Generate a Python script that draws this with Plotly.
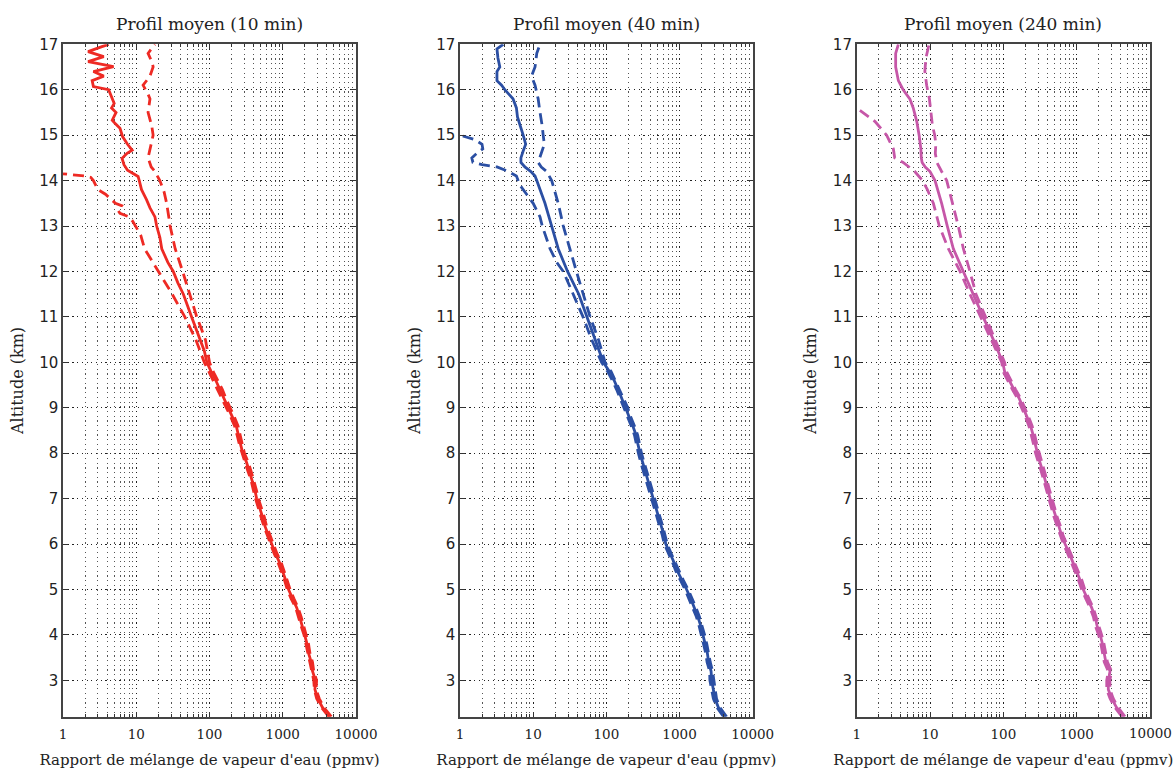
import plotly.graph_objects as go

TITLES = ["Profil moyen (10 min)", "Profil moyen (40 min)", "Profil moyen (240 min)"]
X_TITLE = "Rapport de mélange de vapeur d'eau (ppmv)"
Y_TITLE = "Altitude (km)"
X_TICKS = [1, 10, 100, 1000, 10000]
X_TICK_TEXT = ["1", "10", "100", "1000", "10000"]
Y_TICKS = list(range(3, 18))
COLORS = ["#EE2A24", "#2B4FA3", "#C657A8"]

LOW_ALT = [round(2.2 + 0.2 * i, 1) for i in range(40)]  # 2.2 ... 10.0 km

# ---------- 10 min (red) ----------
alt_10_mean = LOW_ALT + [10.25, 10.5, 10.75, 11.0, 11.25, 11.5, 11.75, 12.0,
                         12.2, 12.5, 12.75, 13.0, 13.2, 13.4, 13.58, 13.8, 14.0,
                         14.09, 14.23, 14.35, 14.49, 14.6, 14.67, 14.8, 14.97,
                         15.15, 15.25, 15.33, 15.5, 15.6, 15.7, 15.85, 16.0,
                         16.07, 16.2, 16.3, 16.4, 16.51, 16.62, 16.73, 16.84, 16.95, 17.0]
val_10_mean = [4400, 3500, 3000, 2750, 2800, 2550, 2450, 2250, 2150, 2000,
               1850, 1700, 1550, 1350, 1200, 1100, 1000, 900, 790, 705,
               630, 570, 530, 480, 440, 415, 385, 350, 320, 285,
               265, 250, 232, 205, 180, 158, 140, 122, 105, 92,
               85, 75, 66, 57, 50, 44, 37, 32,
               27, 22.3, 21, 19, 18, 15.4, 13.8, 11.8, 11.0,
               10.6, 7.6, 6.8, 6.4, 7.5, 8.8, 7.6, 6.5,
               6.0, 5.2, 4.7, 5.3, 4.6, 5.0, 4.6, 4.2,
               2.6, 2.5, 3.6, 2.6, 4.9, 2.2, 3.6, 2.2, 3.4, 4.2]
alt_10_low = LOW_ALT + [10.5, 11.0, 11.5, 12.0, 12.2, 12.5, 12.8, 13.0, 13.1, 13.2,
                        13.28, 13.35, 13.45, 13.5, 13.6, 13.7, 13.8, 13.9, 14.0,
                        14.07, 14.1, 14.15]
val_10_low = [4250, 3400, 2900, 2700, 2650, 2500, 2350, 2200, 2050, 1950,
              1780, 1620, 1500, 1300, 1150, 1060, 960, 860, 760, 680,
              605, 550, 505, 460, 425, 395, 370, 335, 305, 275,
              255, 238, 220, 195, 170, 150, 130, 112, 97, 85,
              65, 46, 31, 20, 17, 13.0, 11.5, 9.8, 9.0, 8.0,
              6.0, 5.6, 6.3, 5.2, 4.5, 3.8, 3.0, 2.8, 2.6,
              2.4, 2.0, 1.0]
alt_10_high = LOW_ALT + [10.5, 11.0, 11.5, 12.0, 12.5, 13.0, 13.25, 13.5, 13.75, 14.0,
                         14.2, 14.3, 14.5, 14.7, 14.85, 15.0, 15.2, 15.5, 15.8, 15.9,
                         16.1, 16.3, 16.5, 16.6, 16.8, 17.0]
val_10_high = [4600, 3650, 3150, 2850, 2900, 2650, 2550, 2350, 2250, 2100,
               1930, 1780, 1620, 1420, 1260, 1150, 1050, 950, 830, 740,
               660, 600, 560, 505, 465, 435, 405, 370, 338, 300,
               280, 264, 245, 218, 190, 168, 150, 130, 112, 100,
               88, 67, 54, 43, 34, 29, 27.5, 26, 24, 21,
               18, 16, 14.5, 15.4, 16, 17, 16.3, 14.5, 15.4, 14.5,
               12.4, 15.4, 17, 16.5, 14.5, 18]

# ---------- 40 min (blue) ----------
alt_40_mean = LOW_ALT + [10.5, 11.0, 11.5, 12.0, 12.5, 13.0, 13.5, 14.0,
                         14.1, 14.2, 14.3, 14.4, 14.5, 14.65, 14.8, 15.0,
                         15.2, 15.4, 15.6, 15.8, 16.0, 16.1, 16.2, 16.4,
                         16.5, 16.7, 16.9, 17.0]
val_40_mean = [4200, 3400, 3050, 2900, 2750, 2700, 2500, 2400, 2250, 2100,
               1950, 1780, 1600, 1420, 1250, 1080, 940, 840, 730, 650,
               610, 560, 515, 475, 437, 400, 370, 340, 310, 288,
               270, 255, 230, 205, 186, 165, 145, 128, 110, 91,
               70, 54, 42, 29.5, 22, 17.9, 14.5, 11.2,
               10.6, 9.3, 7.7, 6.8, 6.8, 7.3, 7.9, 7.3,
               6.6, 6.1, 5.9, 5.3, 4.1, 3.7, 3.2, 3.2,
               3.5, 3.3, 3.2, 3.9]
alt_40_low = LOW_ALT + [10.5, 11.0, 11.5, 12.0, 12.2, 12.5, 13.0, 13.2, 13.5, 13.7,
                        13.9, 14.1, 14.2, 14.3, 14.35, 14.4, 14.5, 14.6, 14.7, 14.8,
                        14.9, 15.0]
val_40_low = [4000, 3250, 2900, 2750, 2600, 2580, 2380, 2280, 2130, 2000,
              1850, 1700, 1520, 1350, 1190, 1030, 895, 800, 695, 620,
              580, 532, 490, 452, 415, 380, 352, 323, 295, 274,
              257, 242, 219, 195, 177, 157, 138, 121, 104, 86,
              63, 48, 35.5, 25.8, 21, 17, 13.3, 12.4, 10, 8.1,
              6.6, 5.9, 4.6, 3.2, 2.0, 1.5, 1.45, 1.7, 2.05, 2.0,
              1.6, 1.0]
alt_40_high = LOW_ALT + [10.5, 11.0, 11.5, 12.0, 12.5, 13.0, 13.5, 14.0, 14.2, 14.3,
                         14.4, 14.6, 14.8, 15.0, 15.2, 15.5, 15.8, 16.1, 16.3, 16.5,
                         16.8, 17.0]
val_40_high = [4400, 3580, 3200, 3050, 2900, 2830, 2630, 2520, 2360, 2200,
               2050, 1870, 1680, 1490, 1310, 1130, 985, 880, 765, 680,
               640, 588, 540, 500, 460, 420, 388, 357, 325, 302,
               284, 268, 242, 215, 196, 173, 152, 134, 116, 96,
               78, 60, 48, 39, 31.7, 25.8, 22, 17.9, 15.3, 12.9,
               11.7, 12.8, 14.2, 13.7, 13.3, 12.4, 11.7, 10.6, 9.5, 10.6,
               11.2, 12.4]

# ---------- 240 min (magenta) ----------
alt_240_mean = LOW_ALT + [10.5, 11.0, 11.5, 12.0, 12.5, 13.0, 13.5, 14.0,
                          14.2, 14.3, 14.4, 14.5, 14.7, 15.0, 15.3, 15.6,
                          15.8, 16.0, 16.2, 16.5, 16.8, 17.0]
val_240_mean = [4350, 3500, 3000, 2700, 2700, 2850, 2500, 2400, 2250, 2090,
                1900, 1780, 1600, 1400, 1230, 1120, 1000, 900, 790, 695,
                620, 570, 515, 475, 435, 405, 375, 345, 315, 290,
                272, 255, 235, 210, 187, 165, 140, 122, 104, 98,
                73, 53, 39, 28.5, 20.8, 17.2, 14.4, 11.7,
                10, 8.6, 7.8, 7.6, 7.5, 7.1, 6.6, 5.9,
                5.3, 4.3, 3.7, 3.4, 3.4, 3.7]
alt_240_low = LOW_ALT + [10.5, 11.0, 11.5, 12.0, 12.5, 13.0, 13.5, 13.8, 14.0, 14.2,
                         14.4, 14.5, 14.7, 15.0, 15.3, 15.55]
val_240_low = [4150, 3330, 2850, 2570, 2570, 2700, 2380, 2280, 2140, 1990,
               1800, 1690, 1520, 1330, 1170, 1060, 950, 855, 750, 660,
               590, 540, 490, 450, 413, 385, 356, 328, 300, 275,
               258, 242, 223, 200, 178, 157, 133, 116, 99, 95,
               69, 49, 35, 25.7, 17.8, 13.4, 11.1, 9.2, 7.9, 6.2,
               4.3, 3.3, 3.16, 2.56, 1.78, 1.1]
alt_240_high = LOW_ALT + [10.5, 11.0, 11.5, 12.0, 12.5, 13.0, 13.5, 14.0, 14.2, 14.4,
                          14.6, 14.8, 15.0, 15.2, 15.5, 15.8, 16.1, 16.4, 16.7, 17.0]
val_240_high = [4550, 3680, 3150, 2840, 2840, 2990, 2630, 2520, 2360, 2190,
                2000, 1870, 1680, 1470, 1290, 1180, 1050, 945, 830, 730,
                650, 600, 540, 500, 457, 425, 394, 362, 331, 305,
                286, 268, 247, 221, 196, 173, 147, 128, 110, 104,
                77, 56, 42.4, 35, 28.5, 24.3, 20.4, 16.9, 14.4, 12.4,
                11.8, 12, 11.6, 10.8, 10.3, 9.8, 9.0, 8.5, 8.8, 9.7]

PANELS = [
    [(alt_10_low, val_10_low, True), (alt_10_high, val_10_high, True), (alt_10_mean, val_10_mean, False)],
    [(alt_40_low, val_40_low, True), (alt_40_high, val_40_high, True), (alt_40_mean, val_40_mean, False)],
    [(alt_240_low, val_240_low, True), (alt_240_high, val_240_high, True), (alt_240_mean, val_240_mean, False)],
]

# body margin is removed in the page (post_script), so figure fills the window
W, H = 1175, 769
X_DOMAINS = [(63 / W, 356 / W), (460 / W, 752.7 / W), (856.7 / W, 1150 / W)]
Y_DOMAIN = (1 - 716.7 / H, 1 - 44.3 / H)
TICKFONT_X = dict(family="DejaVu Serif", size=13.5, color="#222")

fig = go.Figure()
for i, curves in enumerate(PANELS):
    sfx = "" if i == 0 else str(i + 1)
    for alts, vals, dashed in curves:
        assert len(alts) == len(vals)
        fig.add_trace(go.Scatter(
            x=vals, y=alts, mode="lines", xaxis="x" + sfx, yaxis="y" + sfx,
            line=dict(color=COLORS[i], width=2.8, dash="11px,6px" if dashed else "solid"),
            showlegend=False, hoverinfo="skip"))

GRID_DASH = "1.2px,3.5px"
layout = dict(
    width=W, height=H, margin=dict(l=0, r=0, t=0, b=0, autoexpand=False),
    paper_bgcolor="white", plot_bgcolor="white", showlegend=False,
    annotations=[],
)
for i in range(3):
    sfx = "" if i == 0 else str(i + 1)
    # the last panel's right-most label sits at the page edge and plotly drops it,
    # so it is written as a paper-anchored annotation under the axis end instead
    tick_text = X_TICK_TEXT if i < 2 else X_TICK_TEXT[:-1] + [""]
    layout["xaxis" + sfx] = dict(
        type="log", range=[0, 4], domain=list(X_DOMAINS[i]), anchor="y" + sfx,
        ticklabeloverflow="allow",
        tickmode="array", tickvals=X_TICKS, ticktext=tick_text,
        ticks="inside", ticklen=5, tickcolor="#333", mirror="ticks",
        ticklabelstandoff=4,
        showline=True, linecolor="#444", linewidth=1.5,
        showgrid=True, gridcolor="#222", gridwidth=1, griddash=GRID_DASH,
        minor=dict(dtick="D1", ticks="inside", ticklen=3, tickcolor="#333",
                   showgrid=True, gridcolor="#555", gridwidth=1, griddash=GRID_DASH),
        tickfont=TICKFONT_X,
        title=dict(text=X_TITLE, font=dict(family="DejaVu Serif", size=15, color="#222"), standoff=14),
        zeroline=False,
    )
    layout["yaxis" + sfx] = dict(
        range=[2.2, 17], domain=list(Y_DOMAIN), anchor="x" + sfx,
        automargin=False,
        tickmode="array", tickvals=Y_TICKS,
        ticks="inside", ticklen=5, tickcolor="#333", mirror="ticks",
        showline=True, linecolor="#444", linewidth=1.5,
        showgrid=True, gridcolor="#222", gridwidth=1, griddash=GRID_DASH,
        tickfont=dict(family="DejaVu Sans", size=15, color="#222"),
        title=dict(text=Y_TITLE, font=dict(family="DejaVu Serif", size=16, color="#222"), standoff=12),
        zeroline=False,
    )
    layout["annotations"].append(dict(
        text=TITLES[i], xref="paper", yref="paper",
        x=(X_DOMAINS[i][0] + X_DOMAINS[i][1]) / 2, y=1 - 24 / H,
        xanchor="center", yanchor="middle", showarrow=False,
        font=dict(family="DejaVu Serif", size=17, color="#222")))

# right-most tick label of the third panel, placed at the right end of its axis
layout["annotations"].append(dict(
    text=X_TICK_TEXT[-1], xref="paper", yref="paper", x=X_DOMAINS[2][1], y=1 - 733 / H,
    xanchor="center", yanchor="middle", showarrow=False, font=TICKFONT_X))

fig.update_layout(**layout)
fig.write_html(
    "out.html",
    config={"displayModeBar": False},
    post_script="document.body.style.margin='0';document.body.style.overflow='hidden';",
)
